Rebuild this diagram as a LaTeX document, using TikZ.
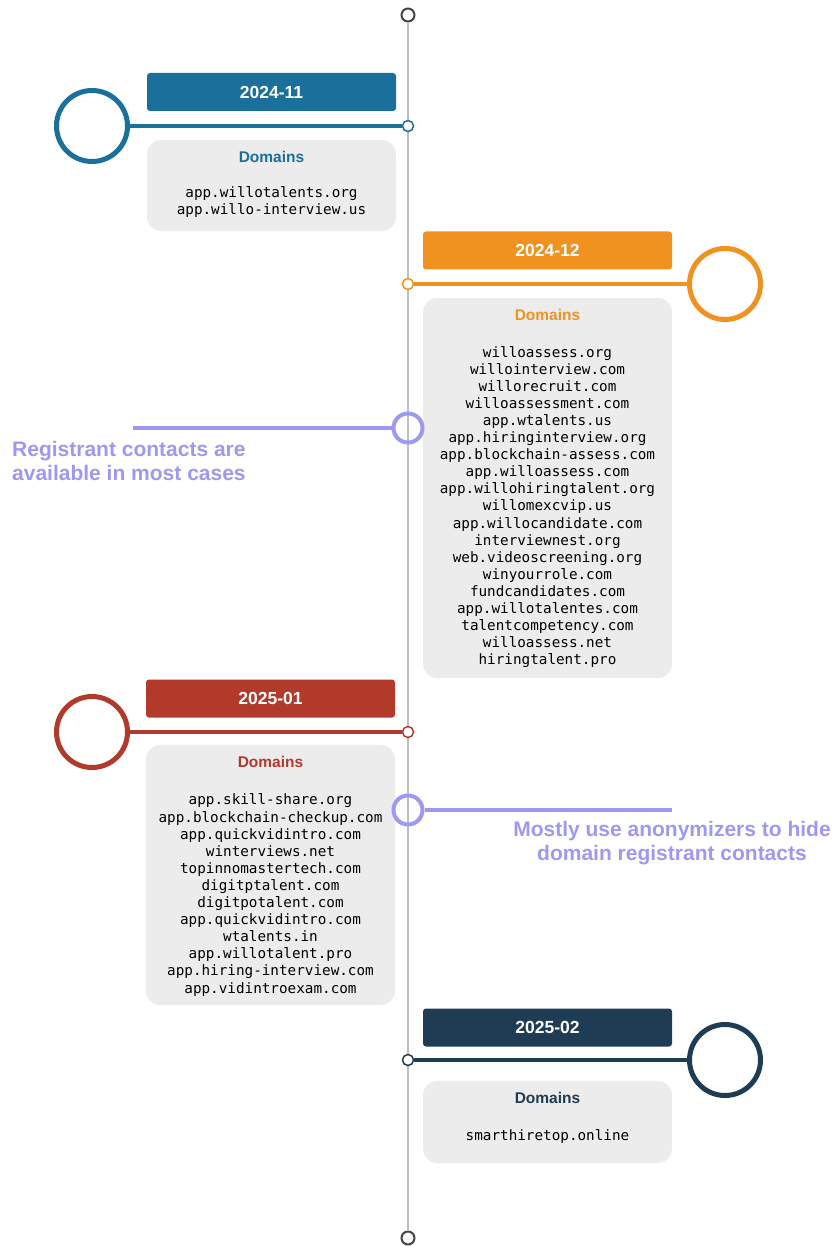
\documentclass[tikz,border=0pt]{standalone}
\usepackage{fontspec}
\setmainfont{Liberation Sans}
\newfontfamily\dmono{DejaVu Sans Mono}
\newfontfamily\hsans{Liberation Sans}
\definecolor{cblue}{HTML}{1B6F9B}
\definecolor{corange}{HTML}{EF9220}
\definecolor{cred}{HTML}{B23A2B}
\definecolor{cnavy}{HTML}{1E3D54}
\definecolor{cpurple}{HTML}{9D99F2}
\definecolor{cbox}{HTML}{ECECEC}
\definecolor{caxis}{HTML}{BDBDBD}
\definecolor{cend}{HTML}{444444}
\tikzset{
  hdr/.style={fill=#1, rounded corners=3pt, minimum width=249pt, minimum height=38pt, inner sep=0pt,
     text=white, font=\hsans\bfseries\fontsize{17.5}{19}\selectfont},
  dbox/.style={fill=cbox, rounded corners=14pt, minimum width=249pt, inner sep=0pt},
  dtitle/.style={text=#1, font=\hsans\bfseries\fontsize{15.5}{17}\selectfont, inner sep=0pt},
  dlist/.style={align=center, inner sep=0pt, font=\dmono\fontsize{14.3}{17.1}\selectfont, text=black},
  bigc/.style={circle, draw=#1, line width=5pt, fill=white, minimum size=71pt, inner sep=0pt},
  smallc/.style={circle, draw=#1, line width=1.5pt, fill=white, minimum size=11pt, inner sep=0pt},
  conn/.style={draw=#1, line width=4pt},
  endc/.style={circle, draw=cend, line width=2pt, fill=white, minimum size=13pt, inner sep=0pt},
  pcirc/.style={circle, draw=cpurple, line width=4pt, minimum size=29pt, inner sep=0pt},
  pline/.style={draw=cpurple, line width=4pt},
  note/.style={text=cpurple, font=\hsans\bfseries\fontsize{21}{24}\selectfont, inner sep=0pt}
}
\begin{document}
\begin{tikzpicture}[x=1pt,y=-1pt]
\useasboundingbox (0,0) rectangle (833,1246);
% axis
\node[endc] (top) at (408,15) {};
\node[endc] (bot) at (408,1238) {};
\draw[caxis, line width=2pt] (top.south) -- (bot.north);

% ---------- 2024-11
\node[hdr=cblue] (h1) at (271.5,92) {2024-11};
\node[dbox, minimum height=91pt] (d1) at (271.5,185.5) {};
\node[dtitle=cblue] (t1) at (271.5,157) {Domains};
\node[dlist] (l1) at (271.5,202) {app.willotalents.org\\app.willo-interview.us};
\node[bigc=cblue] (b1) at (92,126) {};
\node[smallc=cblue] (s1) at (408,126) {};
\draw[conn=cblue] (b1.east) -- (s1.west);

% ---------- 2024-12
\node[hdr=corange] (h2) at (547.5,250.5) {2024-12};
\node[dbox, minimum height=380pt] (d2) at (547.5,488) {};
\node[dtitle=corange] (t2) at (547.5,315) {Domains};
\node[dlist] (l2) at (547.5,507) {willoassess.org\\willointerview.com\\willorecruit.com\\willoassessment.com\\app.wtalents.us\\app.hiringinterview.org\\app.blockchain-assess.com\\app.willoassess.com\\app.willohiringtalent.org\\willomexcvip.us\\app.willocandidate.com\\interviewnest.org\\web.videoscreening.org\\winyourrole.com\\fundcandidates.com\\app.willotalentes.com\\talentcompetency.com\\willoassess.net\\hiringtalent.pro};
\node[bigc=corange] (b2) at (725,284) {};
\node[smallc=corange] (s2) at (408,284) {};
\draw[conn=corange] (s2.east) -- (b2.west);

% ---------- note 1
\node[pcirc] (p1) at (408,428) {};
\coordinate (p1end) at (133,428);
\draw[pline] (p1.west) -- (p1end);
\node[note, align=left, anchor=west] (n1) at (12,461) {Registrant contacts are\\available in most cases};

% ---------- 2025-01
\node[hdr=cred] (h3) at (270.5,698.5) {2025-01};
\node[dbox, minimum height=260pt] (d3) at (270.5,875) {};
\node[dtitle=cred] (t3) at (270.5,762) {Domains};
\node[dlist] (l3) at (270.5,895) {app.skill-share.org\\app.blockchain-checkup.com\\app.quickvidintro.com\\winterviews.net\\topinnomastertech.com\\digitptalent.com\\digitpotalent.com\\app.quickvidintro.com\\wtalents.in\\app.willotalent.pro\\app.hiring-interview.com\\app.vidintroexam.com};
\node[bigc=cred] (b3) at (92,732) {};
\node[smallc=cred] (s3) at (408,732) {};
\draw[conn=cred] (b3.east) -- (s3.west);

% ---------- note 2
\node[pcirc] (p2) at (408,810) {};
\coordinate (p2end) at (672,810);
\draw[pline] (p2.east) -- (p2end);
\node[note, align=center] (n2) at (672,843) {Mostly use anonymizers to hide\\domain registrant contacts};

% ---------- 2025-02
\node[hdr=cnavy] (h4) at (547.5,1027.5) {2025-02};
\node[dbox, minimum height=82pt] (d4) at (547.5,1122) {};
\node[dtitle=cnavy] (t4) at (547.5,1098) {Domains};
\node[dlist] (l4) at (547.5,1137) {smarthiretop.online};
\node[bigc=cnavy] (b4) at (725,1060) {};
\node[smallc=cnavy] (s4) at (408,1060) {};
\draw[conn=cnavy] (s4.east) -- (b4.west);
\end{tikzpicture}
\end{document}
